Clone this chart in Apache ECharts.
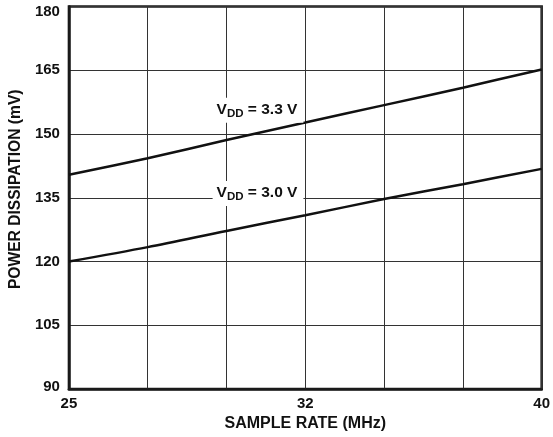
<!DOCTYPE html>
<html>
<head>
<meta charset="utf-8">
<script src="https://cdn.jsdelivr.net/npm/echarts@6/dist/echarts.min.js"></script>
<style>
html,body{margin:0;padding:0;background:#fff;}
#chart{width:553px;height:437px;}
</style>
</head>
<body>
<div id="chart"></div>
<script>
var sampleRate = [25, 27.5, 30, 32.5, 35, 37.5, 40];
var vdd33 = [140.4, 144.3, 148.6, 152.7, 156.8, 160.9, 165.2];
var vdd30 = [120.0, 123.4, 127.2, 130.9, 134.7, 138.2, 141.8];
var xTickLabels = {25: '25', 32.5: '32', 40: '40'};
var yTicks = [90, 105, 120, 135, 150, 165, 180];
var label33 = {x: 31.0, y: 155.6, text: '3.3 V'};
var label30 = {x: 31.0, y: 136.0, text: '3.0 V'};

var font = '"Liberation Sans", Arial, Helvetica, sans-serif';

function pairs(xs, ys) { return xs.map(function (x, i) { return [x, ys[i]]; }); }

function vLabel(l) {
  return {
    symbol: 'rect', symbolSize: 0,
    data: [{
      coord: [l.x, l.y],
      label: {
        show: true, position: 'inside',
        formatter: '{v|V}{s|DD}{v| = ' + l.text + '}',
        backgroundColor: '#fff',
        padding: [1, 6, 3, 4],
        rich: {
          v: {fontFamily: font, fontWeight: 'bold', fontSize: 15.5, color: '#111', lineHeight: 21, verticalAlign: 'middle'},
          s: {fontFamily: font, fontWeight: 'bold', fontSize: 11.5, color: '#111', lineHeight: 11, verticalAlign: 'bottom'}
        }
      }
    }]
  };
}

var chart = echarts.init(document.getElementById('chart'), null, {renderer: 'canvas'});
chart.setOption({
  animation: false,
  backgroundColor: '#fff',
  grid: {left: 63, right: 10.5, top: 6.5, bottom: 47, show: true, borderColor: '#1a1a1a', borderWidth: 2.5, backgroundColor: 'transparent'},
  xAxis: {
    type: 'value', min: 25, max: 40, interval: 2.5,
    name: 'SAMPLE RATE (MHz)', nameLocation: 'middle', nameGap: 25,
    nameTextStyle: {fontFamily: font, fontWeight: 'bold', fontSize: 16, color: '#111'},
    axisLine: {show: true, lineStyle: {color: '#1a1a1a', width: 2.5}},
    axisTick: {show: false},
    axisLabel: {
      fontFamily: font, fontWeight: 'bold', fontSize: 15, color: '#111', margin: 7,
      formatter: function (v) { return xTickLabels[v] !== undefined ? xTickLabels[v] : ''; }
    },
    splitLine: {show: true, lineStyle: {color: '#333', width: 1}}
  },
  yAxis: {
    type: 'value', min: 90, max: 180, interval: 15,
    name: 'POWER DISSIPATION (mV)', nameLocation: 'middle', nameGap: 42,
    nameTextStyle: {fontFamily: font, fontWeight: 'bold', fontSize: 15.6, color: '#111', padding: [0, 0, 0, 17]},
    axisLine: {show: true, lineStyle: {color: '#1a1a1a', width: 2.5}},
    axisTick: {show: false},
    axisLabel: {
      fontFamily: font, fontWeight: 'bold', fontSize: 15, color: '#111', margin: 9,
      formatter: function (v) {
        if (yTicks.indexOf(v) < 0) return '';
        if (v === 180) return '{top|' + v + '}';
        if (v === 90) return '{bot|' + v + '}';
        return String(v);
      },
      rich: {
        top: {fontFamily: font, fontWeight: 'bold', fontSize: 15, color: '#111', padding: [10, 0, 0, 0]},
        bot: {fontFamily: font, fontWeight: 'bold', fontSize: 15, color: '#111', padding: [0, 0, 5, 0]}
      }
    },
    splitLine: {show: true, lineStyle: {color: '#333', width: 1}}
  },
  series: [
    {
      name: 'VDD = 3.3 V', type: 'line', data: pairs(sampleRate, vdd33),
      smooth: 0.3, showSymbol: false, z: 3,
      lineStyle: {color: '#111', width: 2.5},
      markPoint: vLabel(label33)
    },
    {
      name: 'VDD = 3.0 V', type: 'line', data: pairs(sampleRate, vdd30),
      smooth: 0.3, showSymbol: false, z: 3,
      lineStyle: {color: '#111', width: 2.5},
      markPoint: vLabel(label30)
    }
  ]
});
</script>
</body>
</html>
